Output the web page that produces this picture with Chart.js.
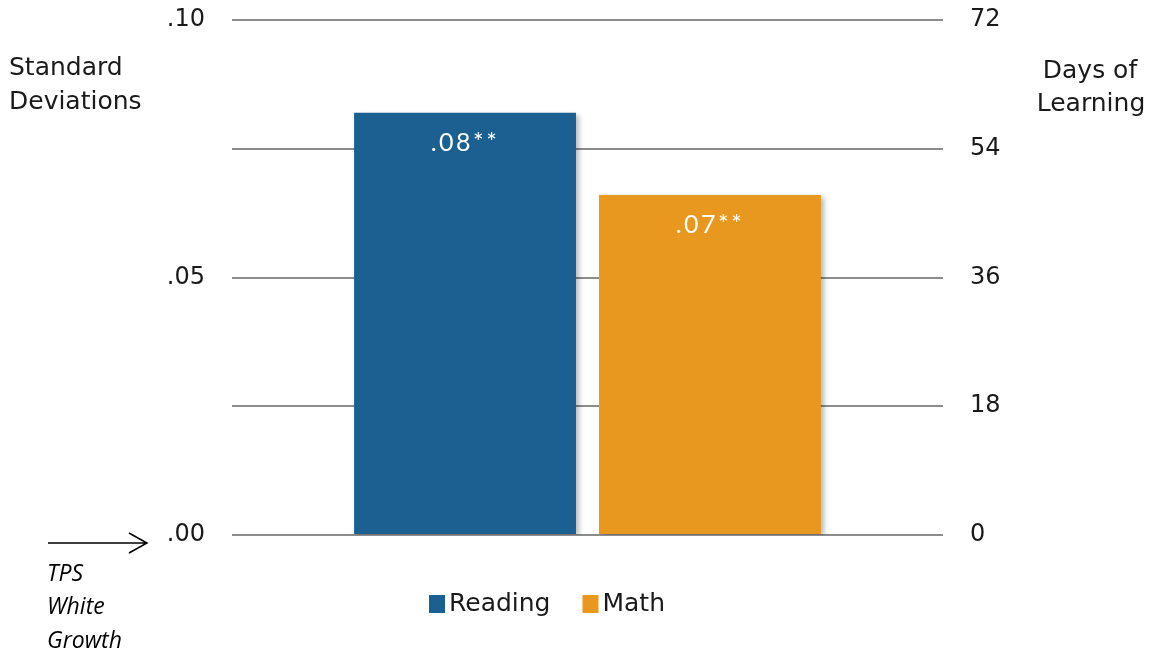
<!DOCTYPE html>
<html>
<head>
<meta charset="utf-8">
<script src="https://cdn.jsdelivr.net/npm/chart.js@4/dist/chart.umd.min.js"></script>
<style>
    html, body { margin: 0; padding: 0; background: #fff; }
    #wrap { width: 1153px; height: 654px; position: relative; }
</style>
</head>
<body>
<div id="wrap"><canvas id="chart"></canvas></div>
<script>
// ---------- DATA ----------
const categories = [""];
const seriesNames = ["Reading", "Math"];
const readingValues = [0.082];
const mathValues = [0.066];
const barLabels = [".08**", ".07**"];
const leftTicks = [0, 0.05, 0.10];
const rightMax = 72;

const colors = ["#1b6090", "#e8981e"];
const tickFont = { family: "DejaVu Sans", size: 24 };

// ---------- PLUGINS ----------
const barShadow = {
    id: "barShadow",
    beforeDatasetsDraw(chart) {
        const c = chart.ctx;
        c.save();
        c.shadowColor = "rgba(0,0,0,0.28)";
        c.shadowBlur = 5;
        c.shadowOffsetX = 3;
        c.shadowOffsetY = 2;
    },
    afterDatasetsDraw(chart) {
        chart.ctx.restore();
    }
};

const extras = {
    id: "extras",
    afterDraw(chart) {
        const c = chart.ctx;
        c.save();

        // value labels inside bars
        c.fillStyle = "#ffffff";
        c.font = "25px Lato";
        c.letterSpacing = "2.5px";
        c.textAlign = "center";
        c.textBaseline = "middle";
        chart.data.datasets.forEach((ds, i) => {
            const bar = chart.getDatasetMeta(i).data[0];
            c.fillText(barLabels[i], bar.x, bar.y + 30);
        });
        c.letterSpacing = "0px";

        // axis titles
        c.fillStyle = "#1a1a1a";
        c.font = "25px 'DejaVu Sans'";
        c.textAlign = "left";
        c.fillText("Standard", 9, 68);
        c.fillText("Deviations", 9, 102);
        c.textAlign = "center";
        c.fillText("Days of", 1090, 71);
        c.fillText("Learning", 1091, 104);

        // arrow + note
        c.strokeStyle = "#000";
        c.lineWidth = 1.5;
        c.beginPath();
        c.moveTo(48, 543);
        c.lineTo(147, 543);
        c.moveTo(129, 533);
        c.lineTo(147, 543);
        c.lineTo(129, 553);
        c.stroke();
        c.fillStyle = "#000";
        c.font = "italic 23px 'Open Sans'";
        c.textAlign = "left";
        c.fillText("TPS", 47, 574);
        c.fillText("White", 47, 607);
        c.fillText("Growth", 47, 641);

        // legend
        c.font = "25px 'DejaVu Sans'";
        let x = 429;
        chart.data.datasets.forEach((ds, i) => {
            c.fillStyle = ds.backgroundColor;
            c.fillRect(x, 595, 16, 18);
            c.fillStyle = "#1a1a1a";
            c.fillText(ds.label, x + 20, 604);
            x += 20 + c.measureText(ds.label).width + 32;
        });

        c.restore();
    }
};

// ---------- CHART ----------
new Chart(document.getElementById("chart"), {
    type: "bar",
    data: {
        labels: categories,
        datasets: [
            { label: seriesNames[0], data: readingValues, backgroundColor: colors[0] },
            { label: seriesNames[1], data: mathValues, backgroundColor: colors[1] }
        ].map(d => ({ ...d, categoryPercentage: 0.689, barPercentage: 0.906, yAxisID: "y" }))
    },
    options: {
        responsive: true,
        maintainAspectRatio: false,
        animation: false,
        layout: { padding: { left: 0, right: 0, top: 0, bottom: 119 } },
        plugins: { legend: { display: false }, tooltip: { enabled: false } },
        scales: {
            x: { display: false },
            y: {
                position: "left",
                min: 0,
                max: 0.1,
                ticks: {
                    stepSize: 0.025,
                    padding: 27,
                    color: "#1a1a1a",
                    font: tickFont,
                    callback: v => leftTicks.some(t => Math.abs(t - v) < 1e-9) ? "." + Math.round(v * 100).toString().padStart(2, "0") : ""
                },
                grid: { color: "#8c8c8c", lineWidth: 2, drawTicks: false },
                border: { display: false },
                afterFit: s => { s.width = 232; s.paddingTop = 20; }
            },
            y2: {
                position: "right",
                min: 0,
                max: rightMax,
                ticks: { stepSize: 18, padding: 27, color: "#1a1a1a", font: tickFont },
                grid: { display: false, drawTicks: false },
                border: { display: false },
                afterFit: s => { s.width = 210; s.paddingTop = 20; }
            }
        }
    },
    plugins: [barShadow, extras]
});
</script>
</body>
</html>
